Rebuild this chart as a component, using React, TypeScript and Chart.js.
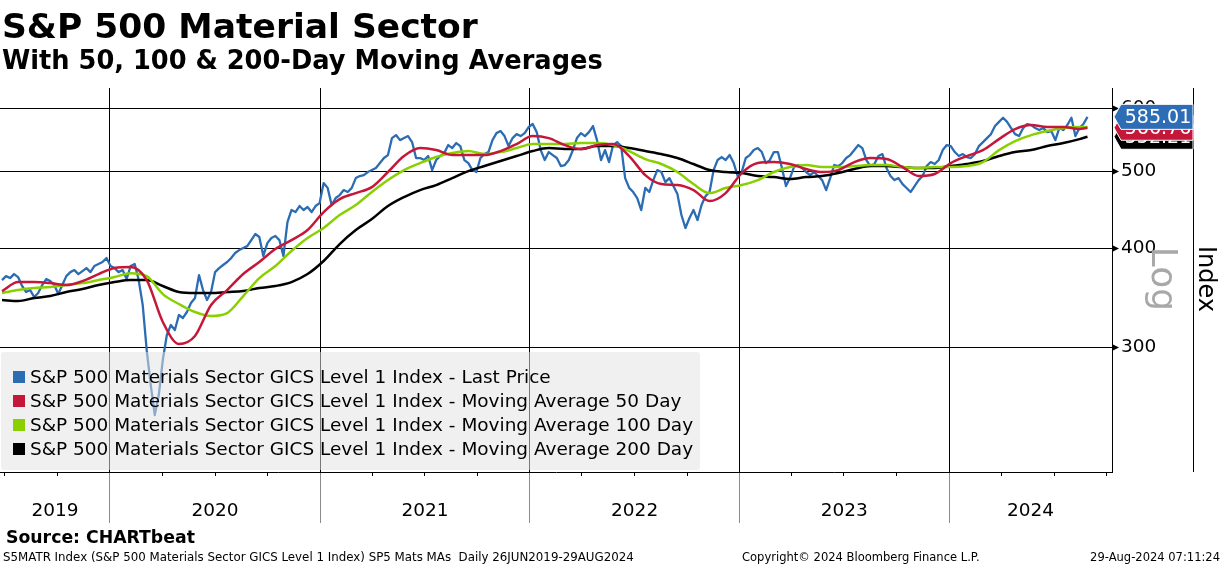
import React, { useEffect, useRef } from "react";
import { Chart, registerables } from "chart.js";

Chart.register(...registerables);

const FONT = "'DejaVu Sans', Verdana, sans-serif";

// ---------------- data ----------------
// Weekly observations starting 27-Jun-2019, last one 29-Aug-2024 (x = days since start)
const START_UTC = Date.UTC(2019, 5, 27);
const LAST_UTC = Date.UTC(2024, 7, 29);
const DAY_MS = 86400000;
const dayOf = (y: number, m: number, d = 1) => (Date.UTC(y, m - 1, d) - START_UTC) / DAY_MS;
const LAST_DAY = (LAST_UTC - START_UTC) / DAY_MS;
const WEEK = 7;
const MA_STEP = 28;
const X_MIN = -3.5; // 23-Jun-2019
const X_MAX = 1932.7; // 10-Oct-2024

const priceWeekly = [
  364.6, 368.8, 366.7, 371.0, 367.8, 358.4, 352.2, 354.2, 347.1, 351.2,
  359.4, 365.7, 363.5, 359.4, 350.1, 359.4, 368.8, 373.1, 375.3, 371.0,
  374.2, 377.5, 373.1, 379.8, 382.0, 384.2, 388.6, 379.8, 377.5, 373.1,
  375.3, 365.7, 379.8, 382.0, 364.6, 339.2, 297.4, 269.0, 246.6, 261.3,
  289.3, 311.0, 320.1, 315.5, 329.5, 326.7, 332.4, 341.1, 346.1, 369.9,
  354.2, 344.1, 352.2, 373.1, 377.5, 380.9, 384.2, 388.6, 394.3, 397.7,
  400.0, 402.3, 409.4, 416.6, 413.0, 391.0, 405.8, 411.8, 414.2, 409.4,
  391.0, 431.3, 446.6, 444.0, 451.8, 446.6, 450.5, 444.0, 451.8, 455.7,
  482.9, 476.2, 453.1, 462.4, 466.4, 473.2, 470.5, 476.2, 489.9, 492.8,
  494.2, 498.6, 501.4, 504.4, 511.7, 519.2, 523.7, 550.1, 554.9, 546.9,
  550.1, 553.3, 543.8, 519.2, 519.2, 516.2, 522.2, 501.4, 516.2, 522.2,
  526.7, 539.1, 534.4, 542.2, 537.5, 516.2, 511.7, 501.4, 498.6, 519.2,
  525.2, 528.3, 546.9, 558.1, 561.4, 553.3, 537.5, 550.1, 556.5, 553.3,
  558.1, 568.0, 573.0, 559.7, 531.3, 516.2, 528.3, 523.7, 519.2, 507.3,
  508.8, 516.2, 531.3, 550.1, 558.1, 553.3, 559.7, 569.6, 546.9, 516.2,
  531.3, 513.2, 539.1, 543.8, 537.5, 489.9, 476.2, 470.5, 462.4, 446.6,
  476.2, 470.5, 487.1, 501.4, 498.6, 484.3, 489.9, 478.7, 467.7, 440.2,
  424.0, 436.4, 446.6, 433.8, 453.1, 465.0, 470.5, 501.4, 516.2, 520.7,
  516.2, 523.7, 511.7, 492.8, 498.6, 519.2, 523.7, 531.3, 534.4, 528.3,
  511.7, 516.2, 528.3, 528.3, 504.4, 478.7, 489.9, 505.8, 508.8, 504.4,
  498.6, 494.2, 498.6, 492.8, 487.1, 473.2, 489.9, 508.8, 507.3, 511.7,
  519.2, 523.7, 531.3, 539.1, 534.4, 516.2, 507.3, 510.3, 522.2, 525.2,
  504.4, 492.8, 487.1, 489.9, 481.5, 476.0, 470.5, 478.7, 487.1, 492.8,
  507.3, 513.2, 510.3, 516.2, 531.3, 539.1, 537.5, 528.3, 522.2, 525.2,
  520.7, 519.2, 525.2, 537.5, 543.8, 550.1, 556.5, 569.6, 576.6, 583.4,
  576.6, 566.3, 556.5, 553.3, 566.3, 573.0, 571.3, 566.3, 563.0, 566.3,
  559.7, 561.4, 546.9, 566.3, 563.0, 571.3, 583.4, 553.3, 566.3, 573.0,
  585.01,
];

// moving averages, every 4 weeks + the last day
const ma50 = [
  353.2, 362.5, 362.5, 361.4, 359.4, 363.5, 371.0, 377.6, 378.7, 364.6,
  322.9, 303.0, 310.1, 339.2, 354.2, 371.0, 384.2, 398.9, 409.4, 421.5,
  444.0, 461.0, 469.1, 477.3, 498.6, 522.2, 534.4, 531.3, 523.7, 523.7,
  523.7, 529.8, 540.7, 553.3, 550.1, 539.1, 532.9, 539.1, 540.7, 522.2,
  494.2, 481.5, 480.1, 473.2, 458.4, 469.1, 497.1, 511.7, 513.2, 510.3,
  502.9, 498.6, 501.4, 513.2, 519.2, 517.7, 505.8, 492.8, 495.7, 511.7,
  522.2, 531.3, 548.5, 564.7, 571.3, 568.0, 568.0, 564.7, 566.76,
];
const ma100 = [
  351.2, 354.2, 356.3, 357.3, 359.4, 361.4, 364.6, 367.8, 372.0, 368.8,
  350.1, 340.2, 332.4, 328.6, 331.4, 348.1, 366.7, 379.8, 396.6, 411.8,
  424.0, 440.2, 453.1, 470.5, 487.1, 501.4, 511.7, 520.7, 526.7, 529.8,
  525.2, 528.3, 534.4, 540.7, 540.7, 540.7, 542.2, 542.2, 539.1, 529.8,
  517.7, 510.3, 498.6, 481.5, 469.1, 476.0, 480.1, 487.1, 498.6, 505.8,
  508.8, 505.8, 505.8, 507.3, 508.8, 508.8, 505.8, 504.4, 505.8, 505.8,
  507.3, 513.2, 531.3, 545.4, 554.9, 561.4, 566.3, 568.0, 568.0,
];
const ma200 = [
  344.1, 343.1, 346.1, 348.1, 352.2, 355.2, 359.4, 362.5, 364.6, 364.6,
  358.4, 352.2, 351.2, 351.2, 352.2, 353.2, 356.3, 358.4, 362.5, 371.0,
  385.3, 404.7, 421.5, 435.1, 451.8, 463.7, 473.2, 480.1, 489.9, 500.0,
  507.3, 514.7, 522.2, 529.8, 534.4, 532.9, 532.9, 537.5, 537.5, 534.4,
  529.8, 525.2, 519.2, 510.3, 501.4, 498.6, 497.1, 492.8, 491.4, 488.5,
  491.4, 492.8, 497.1, 502.9, 507.3, 507.3, 505.8, 504.4, 504.4, 507.3,
  510.3, 514.7, 522.2, 528.3, 531.3, 537.5, 542.2, 548.5, 552.21,
];

const yearLabels = [2019, 2020, 2021, 2022, 2023, 2024];
const yTickValues = [300, 400, 500, 600];
const Y_MIN = 209.1;
const Y_MAX = 636;

const seriesNames = [
  "S&P 500 Materials Sector GICS Level 1 Index - Last Price",
  "S&P 500 Materials Sector GICS Level 1 Index - Moving Average 50 Day",
  "S&P 500 Materials Sector GICS Level 1 Index - Moving Average 100 Day",
  "S&P 500 Materials Sector GICS Level 1 Index - Moving Average 200 Day",
];
const COLORS = { price: "#2b6cb3", ma50: "#c5173a", ma100: "#8ad000", ma200: "#000000" };

const TITLE = "S&P 500 Material Sector";
const SUBTITLE = "With 50, 100 & 200-Day Moving Averages";
const SOURCE = "Source: CHARTbeat";
const FOOT_LEFT = "S5MATR Index (S&P 500 Materials Sector GICS Level 1 Index) SP5 Mats MAs  Daily 26JUN2019-29AUG2024";
const FOOT_MID = "Copyright\u00A9 2024 Bloomberg Finance L.P.";
const FOOT_RIGHT = "29-Aug-2024 07:11:24";

// ---------------- helpers ----------------
const priceDays = priceWeekly.map((_, i) => i * WEEK);
const maDays = ma50.map((_, k) => (k < ma50.length - 1 ? k * MA_STEP : LAST_DAY));
const toXY = (days: number[], vals: number[]) => vals.map((v, i) => ({ x: days[i], y: v }));
const yearStarts = yearLabels.slice(1).map((y) => dayOf(y, 1));

function fitSize(ctx: CanvasRenderingContext2D, text: string, weight: string, width: number) {
  ctx.font = `${weight} 100px ${FONT}`;
  return (100 * width) / ctx.measureText(text).width;
}

function drawTag(ctx: CanvasRenderingContext2D, axisX: number, y: number, color: string, text: string) {
  const tip = axisX + 2;
  const bodyL = axisX + 9;
  const bodyR = axisX + 81;
  const h = 25;
  ctx.beginPath();
  ctx.moveTo(tip, y);
  ctx.lineTo(bodyL, y - h / 2);
  ctx.lineTo(bodyR, y - h / 2);
  ctx.lineTo(bodyR, y + h / 2);
  ctx.lineTo(bodyL, y + h / 2);
  ctx.closePath();
  ctx.fillStyle = color;
  ctx.fill();
  ctx.strokeStyle = "#ffffff";
  ctx.lineWidth = 1;
  ctx.stroke();
  ctx.fillStyle = "#ffffff";
  ctx.font = `19px ${FONT}`;
  ctx.textAlign = "center";
  ctx.textBaseline = "middle";
  ctx.fillText(text, (bodyL + bodyR) / 2 + 1, y + 1);
}

const decorPlugin = {
  id: "decor",
  beforeDraw(chart: any) {
    const ctx = chart.ctx;
    ctx.save();
    ctx.fillStyle = "#ffffff";
    ctx.fillRect(0, 0, chart.width, chart.height);
    ctx.restore();
  },
  afterDatasetsDraw(chart: any) {
    const ctx: CanvasRenderingContext2D = chart.ctx;
    const { left, bottom } = chart.chartArea;
    ctx.save();
    // semi-transparent legend box over the lines
    const bx = left + 1, by = 352, bw = 699, bh = bottom - 2 - 352;
    ctx.fillStyle = "rgba(226,226,226,0.53)";
    ctx.beginPath();
    (ctx as any).roundRect(bx, by, bw, bh, 3);
    ctx.fill();
    const size = fitSize(ctx, seriesNames[0], "normal", 521);
    ctx.font = `${size}px ${FONT}`;
    ctx.textAlign = "left";
    ctx.textBaseline = "middle";
    const cols = [COLORS.price, COLORS.ma50, COLORS.ma100, COLORS.ma200];
    seriesNames.forEach((name, i) => {
      const cy = 377 + i * 24;
      ctx.fillStyle = cols[i];
      ctx.fillRect(13, cy - 6, 12, 12);
      ctx.fillStyle = "#000000";
      ctx.fillText(name, 30, cy + 1);
    });
    ctx.restore();
  },
  afterDraw(chart: any) {
    const ctx: CanvasRenderingContext2D = chart.ctx;
    const { top, bottom, right } = chart.chartArea;
    const xs = chart.scales.x;
    const ys = chart.scales.y;
    ctx.save();

    // y tick arrows
    ctx.fillStyle = "#000000";
    yTickValues.forEach((v) => {
      const py = Math.round(ys.getPixelForValue(v)) + 0.5;
      ctx.beginPath();
      ctx.moveTo(right, py - 3.5);
      ctx.lineTo(right + 7, py);
      ctx.lineTo(right, py + 3.5);
      ctx.closePath();
      ctx.fill();
    });

    // right frame line
    ctx.strokeStyle = "#000000";
    ctx.lineWidth = 1;
    ctx.beginPath();
    ctx.moveTo(right + 81.5, top);
    ctx.lineTo(right + 81.5, bottom);
    ctx.stroke();

    // quarter minor ticks
    ctx.beginPath();
    for (let y = 2019; y <= 2024; y++) {
      [4, 7, 10].forEach((m) => {
        const d = dayOf(y, m);
        if (d >= X_MIN && d <= X_MAX) {
          const px = Math.round(xs.getPixelForValue(d)) + 0.5;
          ctx.moveTo(px, bottom);
          ctx.lineTo(px, bottom + 4);
        }
      });
    }
    ctx.stroke();

    // year labels centred in visible segments
    const bounds = [X_MIN, ...yearStarts, X_MAX];
    ctx.font = `18.5px ${FONT}`;
    ctx.textAlign = "center";
    ctx.textBaseline = "middle";
    ctx.fillStyle = "#000000";
    yearLabels.forEach((yl, i) => {
      const a = xs.getPixelForValue(bounds[i]);
      const b = xs.getPixelForValue(bounds[i + 1]);
      ctx.fillText(String(yl), (a + b) / 2, 511);
    });

    // "Log" and "Index" rotated labels
    ctx.save();
    ctx.translate(1152, 279);
    ctx.rotate(Math.PI / 2);
    ctx.font = `36px ${FONT}`;
    ctx.fillStyle = "#a8a8a8";
    ctx.textAlign = "center";
    ctx.textBaseline = "alphabetic";
    ctx.fillText("Log", 0, 0);
    ctx.restore();
    ctx.save();
    ctx.translate(1199, 279);
    ctx.rotate(Math.PI / 2);
    ctx.font = `24px ${FONT}`;
    ctx.fillStyle = "#000000";
    ctx.textAlign = "center";
    ctx.textBaseline = "alphabetic";
    ctx.fillText("Index", 0, 0);
    ctx.restore();

    // last value tags
    const tags = [
      { vals: ma200, color: "#000000" },
      { vals: ma50, color: COLORS.ma50 },
      { vals: priceWeekly, color: "#2d6db5" },
    ];
    tags.forEach((t) => {
      const v = t.vals[t.vals.length - 1];
      drawTag(ctx, right, ys.getPixelForValue(v), t.color, v.toFixed(2));
    });

    // titles
    ctx.textAlign = "left";
    ctx.textBaseline = "alphabetic";
    ctx.fillStyle = "#000000";
    let s = fitSize(ctx, TITLE, "bold", 476);
    ctx.font = `bold ${s}px ${FONT}`;
    ctx.fillText(TITLE, 2, 38);
    s = fitSize(ctx, SUBTITLE, "bold", 601);
    ctx.font = `bold ${s}px ${FONT}`;
    ctx.fillText(SUBTITLE, 2, 69);

    // footer
    s = fitSize(ctx, SOURCE, "bold", 189);
    ctx.font = `bold ${s}px ${FONT}`;
    ctx.fillText(SOURCE, 6, 543);
    s = fitSize(ctx, FOOT_LEFT, "normal", 631);
    ctx.font = `${s}px ${FONT}`;
    ctx.fillText(FOOT_LEFT, 3, 561);
    s = fitSize(ctx, FOOT_MID, "normal", 238);
    ctx.font = `${s}px ${FONT}`;
    ctx.fillText(FOOT_MID, 742, 561);
    s = fitSize(ctx, FOOT_RIGHT, "normal", 130);
    ctx.font = `${s}px ${FONT}`;
    ctx.textAlign = "right";
    ctx.fillText(FOOT_RIGHT, 1220, 561);

    ctx.restore();
  },
};

export default function App() {
  const canvasRef = useRef<HTMLCanvasElement | null>(null);

  useEffect(() => {
    document.body.style.margin = "0";
    const canvas = canvasRef.current;
    if (!canvas) return;
    const chart = new Chart(canvas, {
      type: "line",
      data: {
        datasets: [
          {
            label: seriesNames[1],
            data: toXY(maDays, ma50),
            borderColor: COLORS.ma50,
            borderWidth: 2.5,
            pointRadius: 0,
            cubicInterpolationMode: "monotone",
            order: 1,
          },
          {
            label: seriesNames[2],
            data: toXY(maDays, ma100),
            borderColor: COLORS.ma100,
            borderWidth: 2.5,
            pointRadius: 0,
            cubicInterpolationMode: "monotone",
            order: 2,
          },
          {
            label: seriesNames[3],
            data: toXY(maDays, ma200),
            borderColor: COLORS.ma200,
            borderWidth: 2.5,
            pointRadius: 0,
            cubicInterpolationMode: "monotone",
            order: 3,
          },
          {
            label: seriesNames[0],
            data: toXY(priceDays, priceWeekly),
            borderColor: COLORS.price,
            borderWidth: 2.3,
            pointRadius: 0,
            tension: 0,
            order: 4,
          },
        ],
      },
      options: {
        responsive: false,
        animation: false,
        layout: { padding: { top: 88, left: 0, right: 31, bottom: 41 } },
        plugins: { legend: { display: false }, tooltip: { enabled: false } },
        elements: { line: { borderJoinStyle: "round" } },
        scales: {
          x: {
            type: "linear",
            min: X_MIN,
            max: X_MAX,
            afterBuildTicks: (s: any) => {
              s.ticks = yearStarts.map((v) => ({ value: v }));
            },
            afterFit: (s: any) => {
              s.height = 53;
            },
            grid: { color: "#000000", lineWidth: 1, tickLength: 51, tickColor: "#8c8c8c" },
            border: { display: true, color: "#000000", width: 1 },
            ticks: { display: false },
          },
          y: {
            type: "logarithmic",
            position: "right",
            min: Y_MIN,
            max: Y_MAX,
            afterBuildTicks: (s: any) => {
              s.ticks = yTickValues.map((v) => ({ value: v }));
            },
            afterFit: (s: any) => {
              s.width = 81;
            },
            grid: { color: "#000000", lineWidth: 1, drawTicks: false },
            border: { display: true, color: "#000000", width: 1 },
            ticks: {
              padding: 9,
              color: "#000000",
              font: { family: FONT, size: 18.5 },
              callback: (v: any) => String(v),
            },
          },
        },
      } as any,
      plugins: [decorPlugin],
    });
    return () => chart.destroy();
  }, []);

  return (
    <div style={{ position: "fixed", left: 0, top: 0, width: 1224, height: 566, background: "#fff" }}>
      <canvas ref={canvasRef} width={1224} height={566} style={{ display: "block", width: 1224, height: 566 }} />
    </div>
  );
}
